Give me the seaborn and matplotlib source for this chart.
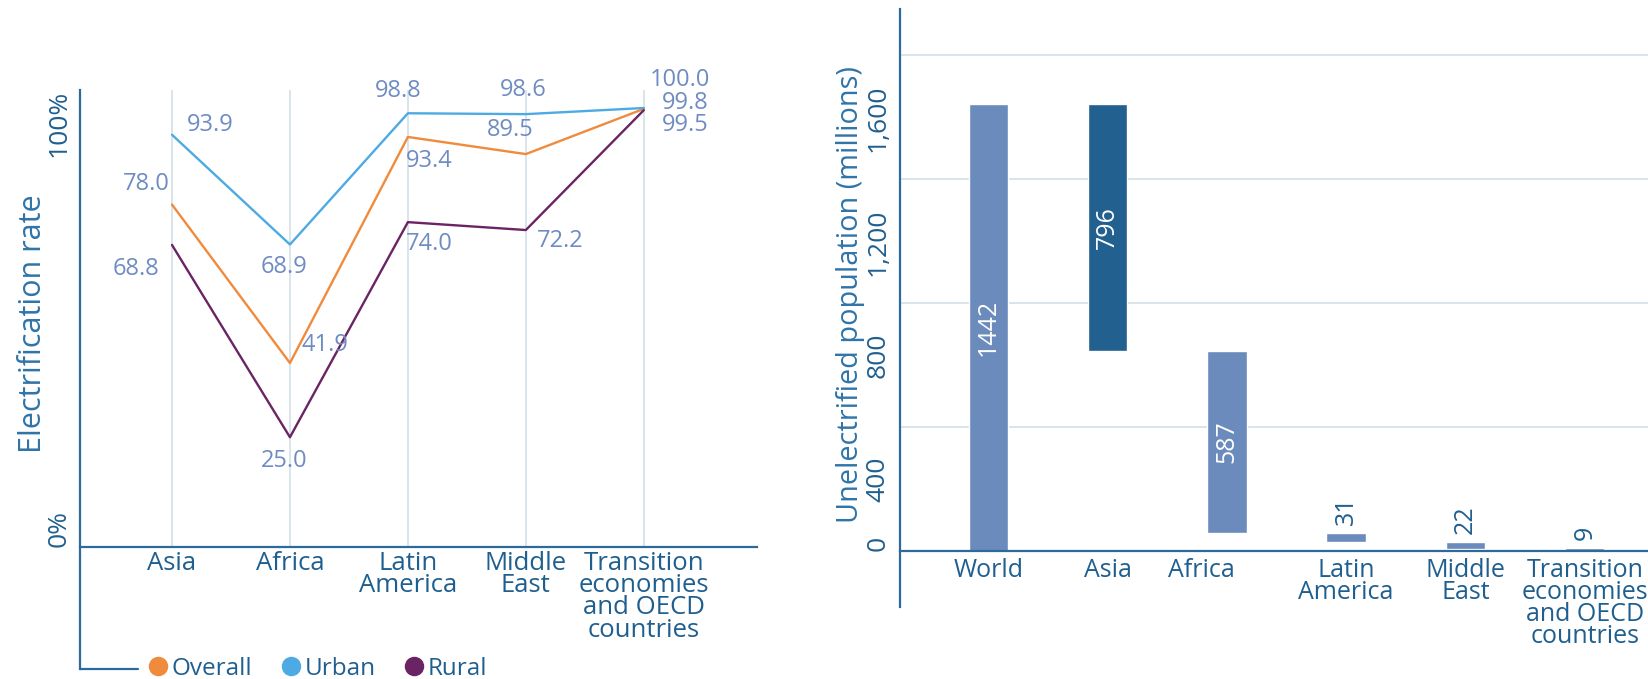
import numpy as np
import pandas as pd
import matplotlib
matplotlib.use("Agg")
import matplotlib.pyplot as plt
import seaborn as sns
from matplotlib.lines import Line2D
from matplotlib.transforms import ScaledTranslation

# ---------------- data ----------------
rate_regions = ["Asia", "Africa", "Latin\nAmerica", "Middle\nEast",
                "Transition\neconomies\nand OECD\ncountries"]
overall = [78.0, 41.9, 93.4, 89.5, 99.8]
urban = [93.9, 68.9, 98.8, 98.6, 100.0]
rural = [68.8, 25.0, 74.0, 72.2, 99.5]
series_names = ["Overall", "Urban", "Rural"]
rate_ticks = [0, 100]
rate_tick_labels = ["0%", "100%"]

pop_categories = ["World", "Asia", "Africa", "Latin\nAmerica", "Middle\nEast",
                  "Transition\neconomies\nand OECD\ncountries"]
pop_values = [1442, 796, 587, 31, 22, 9]
pop_ticks = [0, 400, 800, 1200, 1600]
pop_tick_labels = ["0", "400", "800", "1,200", "1,600"]

# ---------------- style ----------------
sns.set_theme(style="white")
plt.rcParams["font.family"] = ["Open Sans", "DejaVu Sans"]

SPINE = "#2C6A9C"
CAT = "#1F5F8F"
VAL = "#6F8CC2"
GRID = "#D8E5EB"
palette = {"Overall": "#F08A3C", "Urban": "#4DAAE3", "Rural": "#6A2463"}
BAR_LIGHT = "#6C8BBD"
BAR_DARK = "#22618F"

W, H = 1648, 679
fig = plt.figure(figsize=(W / 100, H / 100), dpi=100)


def rect(l, t, r, b):
    return [l / W, 1 - b / H, (r - l) / W, (b - t) / H]


ax1 = fig.add_axes(rect(80, 90, 757, 669))
ax2 = fig.add_axes(rect(900, 9, 1648, 607))

# ---------------- left: electrification rate ----------------
df = pd.DataFrame({
    "region": rate_regions * 3,
    "series": [s for s in series_names for _ in rate_regions],
    "rate": overall + urban + rural,
})
sns.lineplot(data=df, x="region", y="rate", hue="series", palette=palette,
             sort=False, lw=1.7, legend=False, ax=ax1, zorder=3)
ax1.set_xlim(-0.78, 4.96)
ax1.set_ylim(-27.8, 104.1)
ax1.vlines(range(len(rate_regions)), 0, 104.1, color=GRID, lw=1.4, zorder=0)

for s in ["top", "right"]:
    ax1.spines[s].set_visible(False)
ax1.spines["bottom"].set_position(("data", 0))
for s in ["bottom", "left"]:
    ax1.spines[s].set_color(SPINE)
    ax1.spines[s].set_linewidth(1.6)
ax1.plot([0, (138 - 80) / 677], [0, 0], transform=ax1.transAxes,
         clip_on=False, color=SPINE, lw=1.6)

ax1.set_xticks(range(len(rate_regions)))
ax1.set_xticklabels(rate_regions, fontsize=18.5, color=CAT, linespacing=0.85)
ax1.tick_params(axis="x", length=0, pad=3)
ax1.set_xlabel("")
ax1.set_yticks(rate_ticks)
ax1.set_yticklabels(rate_tick_labels, rotation=90, fontsize=19, color=CAT)
ax1.tick_params(axis="y", length=0, pad=6)
ylabs = ax1.get_yticklabels()
ylabs[0].set_va("bottom")
ylabs[1].set_va("top")
ylabs[1].set_transform(ylabs[1].get_transform() +
                       ScaledTranslation(0, 18 / 100, fig.dpi_scale_trans))
ax1.set_ylabel("Electrification rate", fontsize=22, color="#2F74A8")
ax1.yaxis.set_label_coords(-0.048, 0.596)

label_offsets = {
    "Urban": [(15, 10, "left"), (-6, -22, "center"), (-10, 22, "center"),
              (-3, 24, "center"), (6, 28, "left")],
    "Overall": [(-2, 21, "right"), (12, 18, "left"), (-2, -24, "left"),
                (-16, 24, "center"), (18, 6, "left")],
    "Rural": [(-13, -24, "right"), (-6, -24, "center"), (-2, -22, "left"),
              (11, -11, "left"), (18, -15, "left")],
}
series_vals = {"Overall": overall, "Urban": urban, "Rural": rural}
for name in series_names:
    for i, v in enumerate(series_vals[name]):
        dx, dy, ha = label_offsets[name][i]
        ax1.annotate(f"{v:.1f}", (i, v), xytext=(dx, dy),
                     textcoords="offset pixels", ha=ha, va="center",
                     fontsize=17, color=VAL, zorder=4)

handles = [Line2D([], [], ls="", marker="o", markersize=13,
                  markerfacecolor=palette[s], markeredgecolor=palette[s])
           for s in series_names]
ax1.legend(handles, series_names, loc="center left",
           bbox_to_anchor=((146 - 80) / 677, 0.0), ncol=3, frameon=False,
           fontsize=17.5, labelcolor=CAT, handletextpad=0.05,
           columnspacing=1.1, handlelength=1.0, borderpad=0, borderaxespad=0)

# ---------------- right: unelectrified population waterfall ----------------
tops = []
bottoms = []
start = pop_values[0]
tops.append(pop_values[0])
bottoms.append(0)
for v in pop_values[1:]:
    tops.append(start)
    b = max(start - v, 0)
    bottoms.append(b)
    start = start - v
colors = [BAR_LIGHT, BAR_DARK] + [BAR_LIGHT] * (len(pop_values) - 2)
ax2.bar(pop_categories, pop_values, bottom=bottoms, width=0.33,
        color=colors, zorder=3)
ax2.set_xlim(-0.74, 5.53)
ax2.set_ylim(-181, 1748)
ax2.set_yticks(pop_ticks)
ax2.yaxis.grid(True, color=GRID, lw=1.4)
ax2.set_axisbelow(True)
for s in ["top", "right"]:
    ax2.spines[s].set_visible(False)
ax2.spines["bottom"].set_position(("data", 0))
for s in ["bottom", "left"]:
    ax2.spines[s].set_color(SPINE)
    ax2.spines[s].set_linewidth(1.6)
ax2.spines["bottom"].set_zorder(4)

ax2.set_yticklabels(pop_tick_labels, rotation=90, fontsize=19, color=CAT)
ax2.tick_params(axis="y", length=0, pad=7)
plabs = ax2.get_yticklabels()
plabs[0].set_va("bottom")
for lab in plabs[1:]:
    lab.set_va("top")
    lab.set_transform(lab.get_transform() +
                      ScaledTranslation(0, -30 / 100, fig.dpi_scale_trans))
ax2.tick_params(axis="x", length=0, pad=5)
ax2.set_xticks(range(len(pop_categories)))
ax2.set_xticklabels(pop_categories, fontsize=18, color=CAT, linespacing=0.85)
xl = ax2.get_xticklabels()
xl[2].set_transform(xl[2].get_transform() +
                    ScaledTranslation(-26 / 100, 0, fig.dpi_scale_trans))
ax2.set_ylabel("Unelectrified population (millions)", fontsize=20.8,
               color="#2F74A8")
ax2.yaxis.set_label_coords(-0.047, 0.522)

for i, v in enumerate(pop_values):
    b = bottoms[i]
    if v > 100:
        ax2.text(i, b + v / 2, str(v), rotation=90, ha="center", va="center",
                 fontsize=18, color="white", zorder=5)
    else:
        ax2.annotate(str(v), (i, b + v), xytext=(0, 8),
                     textcoords="offset pixels", rotation=90, ha="center",
                     va="bottom", fontsize=18, color=CAT, zorder=5)

fig.savefig("out.png", dpi=100)
